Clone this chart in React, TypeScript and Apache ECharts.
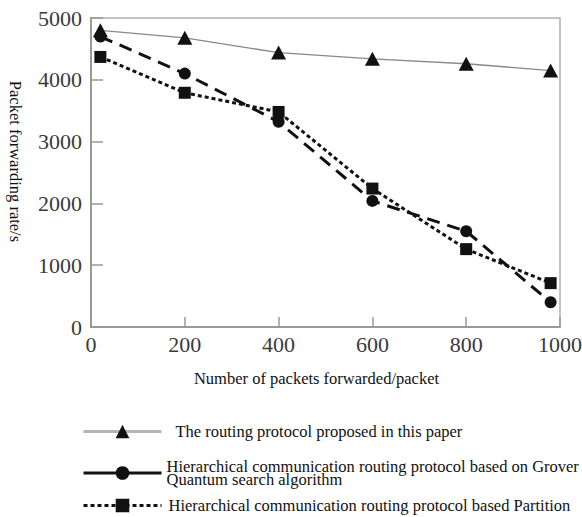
import React, { useEffect, useRef } from "react";
import * as echarts from "echarts";

const xValues = [20, 200, 400, 600, 800, 980];
const proposed = [4800, 4680, 4440, 4340, 4260, 4150];
const grover = [4700, 4100, 3320, 2040, 1550, 400];
const partition = [4370, 3790, 3480, 2240, 1260, 710];
const xTicks = [0, 200, 400, 600, 800, 1000];
const yTicks = [0, 1000, 2000, 3000, 4000, 5000];

const names = [
  "The routing protocol proposed in this paper",
  "Hierarchical communication routing protocol based on Grover\nQuantum search algorithm",
  "Hierarchical communication routing protocol based Partition",
];

const SERIF = "Liberation Serif";

const pair = (vals: number[]) => xValues.map((x, i) => [x, vals[i]]);

export default function App() {
  const ref = useRef<HTMLDivElement>(null);
  useEffect(() => {
    if (!ref.current) return;
    const chart = echarts.init(ref.current, undefined, { renderer: "svg" });
    const legendBase = {
      left: 82,
      orient: "horizontal" as const,
      itemWidth: 78,
      itemHeight: 17,
      itemGap: 0,
      padding: 0,
      selectedMode: false,
      textStyle: { fontFamily: SERIF, fontSize: 16.5, color: "#111" },
    };
    chart.setOption({
      animation: false,
      backgroundColor: "#fff",
      grid: {
        left: 91,
        right: 22,
        top: 18,
        bottom: 190,
        show: true,
        borderColor: "#b0b0b0",
        borderWidth: 1.5,
        outerBoundsMode: "none",
        containLabel: false,
      },
      xAxis: {
        type: "value",
        min: 0,
        max: 1000,
        interval: 200,
        name: "Number of packets forwarded/packet",
        nameLocation: "middle",
        nameGap: 43,
        nameTextStyle: { fontFamily: SERIF, fontSize: 16.5, color: "#111", padding: [0, 18, 0, 0] },
        axisLine: { show: true, lineStyle: { color: "#999", width: 2 } },
        axisTick: { show: true, inside: true, length: 10, lineStyle: { color: "#999", width: 1.5 } },
        splitLine: { show: false },
        axisLabel: {
          fontFamily: SERIF,
          fontSize: 22,
          color: "#3a3a3a",
          margin: 6,
          formatter: (v: number) => (xTicks.includes(v) ? String(v) : ""),
        },
      },
      yAxis: {
        type: "value",
        min: 0,
        max: 5000,
        interval: 1000,
        name: "Packet forwarding rate/s",
        nameLocation: "middle",
        nameRotate: -90,
        nameGap: 67,
        nameTextStyle: { fontFamily: SERIF, fontSize: 16.5, color: "#111", padding: [0, 22, 0, 0] },
        axisLine: { show: true, lineStyle: { color: "#999", width: 2 } },
        axisTick: { show: true, inside: true, length: 12, lineStyle: { color: "#999", width: 1.5 } },
        splitLine: { show: false },
        axisLabel: {
          fontFamily: SERIF,
          fontSize: 22,
          color: "#3a3a3a",
          margin: 9,
          formatter: (v: number) => (yTicks.includes(v) ? String(v) : ""),
        },
      },
      legend: [
        {
          ...legendBase,
          top: 423,
          data: [names[0]],
          lineStyle: { width: 3, color: "#b5b5b5", type: "solid" },
          textStyle: { ...legendBase.textStyle, padding: [0, 0, 0, 9] },
        },
        {
          ...legendBase,
          top: 458,
          data: [names[1]],
          lineStyle: { width: 3, type: "solid" },
          textStyle: { ...legendBase.textStyle, lineHeight: 13 },
        },
        {
          ...legendBase,
          top: 497,
          data: [names[2]],
          lineStyle: { width: 3, type: [4, 3] },
          textStyle: { ...legendBase.textStyle, padding: [0, 0, 0, 2] },
        },
      ],
      series: [
        {
          name: names[0],
          type: "line",
          data: pair(proposed),
          symbol: "triangle",
          symbolSize: [15, 14],
          itemStyle: { color: "#111" },
          lineStyle: { color: "#888", width: 1.3 },
          z: 3,
        },
        {
          name: names[1],
          type: "line",
          data: pair(grover),
          symbol: "circle",
          symbolSize: 12,
          itemStyle: { color: "#111" },
          lineStyle: { color: "#111", width: 3, type: [13, 8] },
          z: 2,
        },
        {
          name: names[2],
          type: "line",
          data: pair(partition),
          symbol: "rect",
          symbolSize: 12,
          itemStyle: { color: "#111" },
          lineStyle: { color: "#111", width: 3, type: [4, 3] },
          z: 2,
        },
      ],
    });
    return () => chart.dispose();
  }, []);
  return (
    <div
      ref={ref}
      style={{ position: "fixed", left: 0, top: 0, width: 582, height: 517, background: "#fff" }}
    />
  );
}
